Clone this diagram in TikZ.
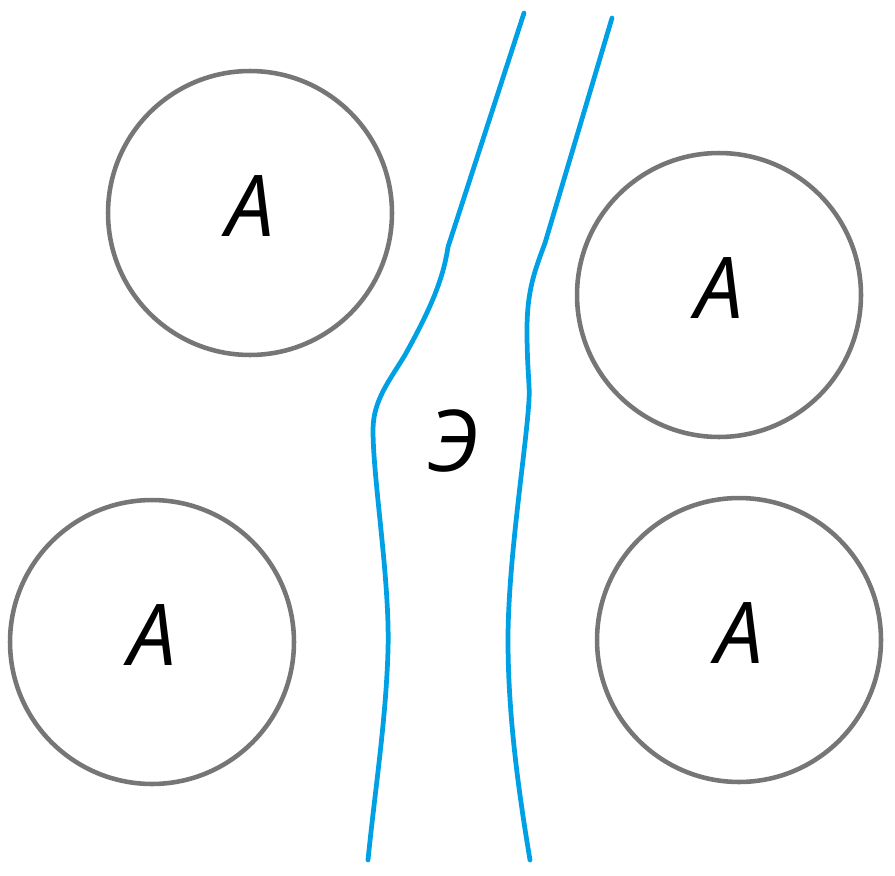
\documentclass[tikz,border=0pt]{standalone}
\usepackage{fontspec}
\setmainfont{Open Sans}
\definecolor{channelblue}{RGB}{0,160,228}
\definecolor{ringgray}{RGB}{118,118,118}
\begin{document}
\begin{tikzpicture}[x=0.02cm,y=-0.02cm,
  ring/.style={circle,draw=ringgray,line width=2.6pt,minimum size=5.68cm,inner sep=0pt,text depth=0.26cm,font=\fontsize{48.6}{50}\selectfont\itshape},
  wall/.style={channelblue,line width=2.7pt,line cap=round,line join=round}]
  \useasboundingbox (0,0) rectangle (895,875);
  % Circles
  \node[ring] (a1) at (250,213) {A};
  \node[ring] (a2) at (719,295) {A};
  \node[ring] (a3) at (152,642) {A};
  \node[ring] (a4) at (739,640) {A};
  % Channel walls
  \draw[wall] (524,13) -- (448,247) .. controls (443,280) and (430,310) .. (405,355)
    .. controls (390,380) and (373,400) .. (373,430)
    .. controls (373,480) and (390,580) .. (388,650)
    .. controls (386,720) and (375,790) .. (368,860);
  \draw[wall] (612,18) -- (545,243) .. controls (535,270) and (527,290) .. (527,330)
    .. controls (527,370) and (530,385) .. (529,400)
    .. controls (526,450) and (508,560) .. (508,640)
    .. controls (508,720) and (520,800) .. (530,860);
  % Label
  \node[font=\fontsize{48.6}{50}\selectfont\itshape] (e) at (454,441) {Э};
\end{tikzpicture}
\end{document}
